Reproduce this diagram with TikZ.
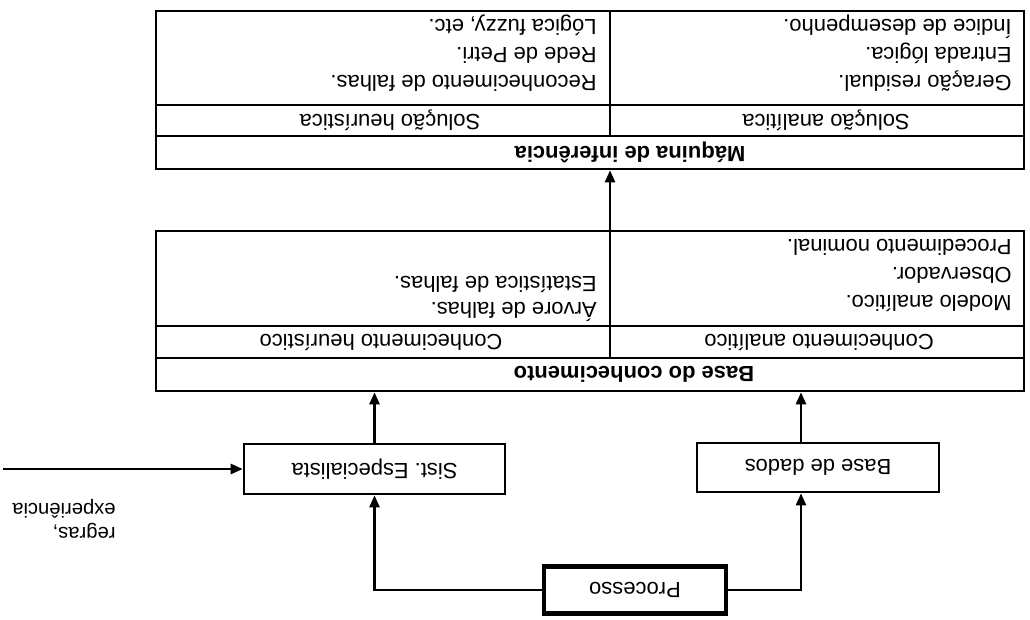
\documentclass[tikz,border=0pt]{standalone}
\usepackage{fontspec}
\setmainfont{Liberation Sans}
\usetikzlibrary{positioning, arrows.meta}

\newcommand{\flip}[1]{\rotatebox[origin=c]{180}{#1}}

\begin{document}
\begin{tikzpicture}[
    x=0.02cm, y=-0.02cm,
    frame/.style={draw, line width=1.5pt, inner sep=0pt},
    rule/.style={line width=1.4pt},
    txt/.style={rotate=180, inner sep=0pt, font=\fontsize{12.5}{16}\selectfont},
    title/.style={rotate=180, inner sep=0pt, font=\fontsize{12.5}{16}\selectfont\bfseries},
    list/.style={txt, align=left, anchor=north west},
    block/.style={draw, line width=1.5pt, inner sep=0pt, font=\fontsize{12.5}{15}\selectfont},
    arrow/.style={-{Triangle[length=2.4mm, width=2mm]}, line width=1.4pt}
]
\useasboundingbox (0,0) rectangle (1030,619);

% inference engine
\node[frame, minimum width=17.36cm, minimum height=3.16cm] (inf) at (590,90) {};
\draw[rule] (156,105) -- (1024,105);
\draw[rule] (156,136) -- (1024,136);
\draw[rule] (610,11) -- (610,136);
\node[list] (solAlist) at (1012,92) {Geração residual.\\Entrada lógica.\\Índice de desempenho.};
\node[list] (solHlist) at (597,92) {Reconhecimento de falhas.\\Rede de Petri.\\Lógica fuzzy, etc.};
\node[txt] (solA) at (826,120.5) {Solução analítica};
\node[txt] (solH) at (390,120.5) {Solução heurística};
\node[title] (maq) at (630,152.5) {Máquina de inferência};

% knowledge base
\node[frame, minimum width=17.36cm, minimum height=3.2cm] (kb) at (590,311) {};
\draw[rule] (156,326) -- (1024,326);
\draw[rule] (156,358) -- (1024,358);
\draw[rule] (610,231) -- (610,358);
\node[list] (conAlist) at (1012,312) {Modelo analítico.\\Observador.\\Procedimento nominal.};
\node[list, font=\fontsize{12.5}{15}\selectfont] (conHlist) at (597,322) {Árvore de falhas.\\Estatística de falhas.};
\node[txt] (conA) at (819,342) {Conhecimento analítico};
\node[txt] (conH) at (381,342) {Conhecimento heurístico};
\node[title] (base) at (634,374.5) {Base do conhecimento};

\draw[arrow] (kb.north -| 610,0) -- (inf.south -| 610,0);

% sources
\node[block, minimum width=5.22cm, minimum height=1cm] (sist) at (374.5,469) {\flip{Sist.\ Especialista}};
\node[block, minimum width=4.84cm, minimum height=0.98cm] (dados) at (818,467.5) {\flip{Base de dados}};
\node[block, line width=2.6pt, minimum width=3.64cm, minimum height=0.94cm] (proc) at (635,590) {\flip{Processo}};
\coordinate (src) at (3,469);
\node[list, font=\fontsize{11.5}{14}\selectfont] (rules) at (116,539) {regras,\\experiência};

\draw[arrow] (sist.north) -- (sist.north |- kb.south);
\draw[arrow] ([xshift=-0.34cm]dados.north) -- ([xshift=-0.34cm]dados.north |- kb.south);
\draw[arrow] (proc.east) -| ([xshift=-0.34cm]dados.south);
\draw[arrow] (proc.west) -| (sist.south);
\draw[arrow] (src) -- (sist.west);

\end{tikzpicture}
\end{document}
